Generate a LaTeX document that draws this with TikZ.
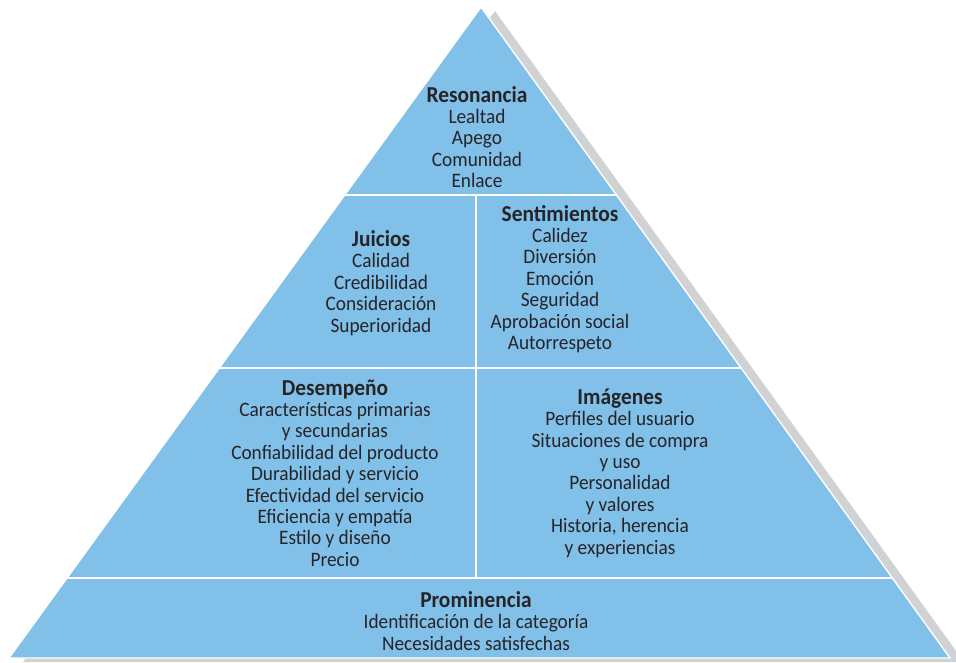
\documentclass[tikz,border=0pt]{standalone}
\usepackage{fontspec}
\setmainfont[FakeStretch=0.94]{Carlito}
\usepackage{xcolor}
\usepackage{tikz}
\usetikzlibrary{calc}
\definecolor{pyrblue}{RGB}{129,192,233}
\definecolor{pyrshadow}{RGB}{209,210,212}
\definecolor{pyrtext}{RGB}{38,36,38}
\newcommand{\lvltitle}[1]{{\fontsize{16.2}{15.2}\selectfont\bfseries #1}}

\begin{document}
\begin{tikzpicture}[x=0.025cm, y=-0.025cm,
  level/.style={align=center, text=pyrtext, inner sep=0pt, font=\fontsize{14.6}{15.2}\selectfont},
  divider/.style={draw=white, line width=1.5pt}]
\useasboundingbox (0,0) rectangle (956,663);
\coordinate (apex) at (481,7);
\coordinate (bl) at (9,658);
\coordinate (br) at (950,658);

\fill[pyrshadow] ($(apex)+(14,4)$) -- ($(br)+(14,4)$) -- ($(bl)+(14,4)$) -- cycle;
\filldraw[fill=pyrblue, draw=white, line width=1pt] (apex) -- (br) -- (bl) -- cycle;
\foreach \t in {0.289,0.555,0.877} {
\draw[divider] ($(apex)!\t!(bl)$) -- ($(apex)!\t!(br)$); }
\draw[divider] (476,195) -- (476,578);

\node[level] (resonancia) at (477,137) {\lvltitle{Resonancia}\\Lealtad\\Apego\\Comunidad\\Enlace};
\node[level] (juicios) at (381,283) {\lvltitle{Juicios}\\Calidad\\Credibilidad\\Consideración\\Superioridad};
\node[level] (sentimientos) at (560,279) {\lvltitle{Sentimientos}\\Calidez\\Diversión\\Emoción\\Seguridad\\Aprobación social\\Autorrespeto};
\node[level] (desempeno) at (335,473) {\lvltitle{Desempeño}\\Características primarias\\y secundarias\\Confiabilidad del producto\\Durabilidad y servicio\\Efectividad del servicio\\Eficiencia y empatía\\Estilo y diseño\\Precio};
\node[level] (imagenes) at (620,473) {\lvltitle{Imágenes}\\Perfiles del usuario\\Situaciones de compra\\y uso\\Personalidad\\y valores\\Historia, herencia\\y experiencias};
\node[level] (prominencia) at (476,621) {\lvltitle{Prominencia}\\Identificación de la categoría\\Necesidades satisfechas};
\end{tikzpicture}
\end{document}
